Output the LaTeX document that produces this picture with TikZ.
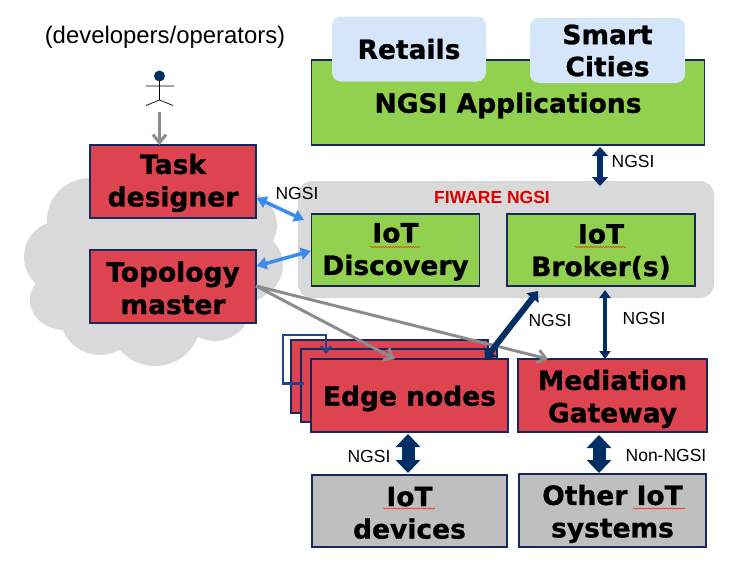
\documentclass[tikz,border=0pt]{standalone}
\usepackage{fontspec}
\setmainfont{Liberation Sans}
\newfontfamily\vfont[BoldFeatures={FakeBold=0.9}]{DejaVu Sans}
\usetikzlibrary{arrows.meta,decorations.pathmorphing,calc}
\definecolor{redbox}{HTML}{DD4450}
\definecolor{greenbox}{HTML}{92D050}
\definecolor{greybox}{HTML}{BFBFBF}
\definecolor{navy}{HTML}{002F66}
\definecolor{edgeline}{HTML}{17285C}
\definecolor{bgrey}{HTML}{D9D9D9}
\definecolor{lblue}{HTML}{D6E6FA}
\definecolor{bluearrow}{HTML}{3B8BEE}
\definecolor{arrowgrey}{HTML}{8C8C8C}
\definecolor{loopblue}{HTML}{1F4590}
\newcommand\dropa{\rule{0pt}{23pt}}
\newcommand\dropb{\rule{0pt}{27pt}}
\tikzset{
  x=1pt,y=-1pt,
  box/.style={draw=edgeline,line width=1.4pt,minimum width=#1,align=center,inner sep=0pt,font=\vfont\fontsize{26.5}{32.5}\selectfont\bfseries,text=black,execute at begin node={\rule{0pt}{26pt}}},
  redb/.style={box=#1,fill=redbox,minimum height=73pt},
  greenb/.style={box=#1,fill=greenbox,minimum height=72pt},
  greyb/.style={box=#1,fill=greybox,minimum height=72pt},
  bluetop/.style={fill=lblue,rounded corners=9pt,minimum width=154pt,minimum height=65pt,align=center,inner sep=0pt,font=\vfont\fontsize{26.5}{32}\selectfont\bfseries},
  lab/.style={font=\fontsize{17.5}{20}\selectfont,inner sep=0pt},
  dblmid/.style={navy,line width=6pt,{Triangle[length=9pt,width=16pt]}-{Triangle[length=9pt,width=16pt]}},
  dblthick/.style={navy,line width=13pt,{Triangle[length=13pt,width=24pt]}-{Triangle[length=13pt,width=24pt]}},
  dblthin/.style={navy,line width=3.5pt,{Triangle[length=8pt,width=11pt]}-{Triangle[length=8pt,width=11pt]}},
  blueb/.style={bluearrow,line width=3.5pt,{Triangle[length=10pt,width=12pt]}-{Triangle[length=10pt,width=12pt]}},
  greya/.style={arrowgrey,line width=3pt,-{Straight Barb[length=8pt,width=13pt]}},
  squig/.style={draw=red!70!orange,line width=.5pt,decorate,decoration={snake,amplitude=.6pt,segment length=2.5pt}},
}
\begin{document}
\begin{tikzpicture}
\useasboundingbox (0,0) rectangle (747,570);
\fill[white] (0,0) rectangle (747,570);
% cloud
\fill[bgrey]
  (90,220) ellipse[x radius=43,y radius=42]
  (60,257) ellipse[x radius=36,y radius=36]
  (65,300) ellipse[x radius=35,y radius=30]
  (100,315) ellipse[x radius=40,y radius=40]
  (155,320) ellipse[x radius=46,y radius=46]
  (215,305) ellipse[x radius=36,y radius=36]
  (225,225) ellipse[x radius=52,y radius=40]
  (233,265) ellipse[x radius=50,y radius=40]
  (170,260) ellipse[x radius=90,y radius=70];
% grey group
\fill[bgrey,rounded corners=14pt] (298,181) rectangle (714,298);
\node[lab,text=red!85!black,font=\fontsize{17.5}{20}\selectfont\bfseries] (fiware) at (492,197) {FIWARE NGSI};
% applications
\node[greenb=393pt,minimum height=85pt] (apps) at (508,102.5) {NGSI Applications};
\node[bluetop] (retails) at (409,49) {Retails};
\node[bluetop,minimum width=155pt] (cities) at (607.5,50.5) {Smart\\Cities};
% left
\node[font=\fontsize{23.9}{26}\selectfont,inner sep=0pt] (role) at (165,37) {(developers/operators)};
\node[redb=166pt] (task) at (173,181.5) {\dropa Task\\designer};
\node[redb=166pt] (topo) at (173,286.5) {\dropa Topology\\master};
% actor
\fill[navy] (159.5,76) circle[radius=5.5pt];
\draw[black,line width=.7pt] (159.5,81) -- (159.5,100) (146,86) -- (174,86) (146,105.5) -- (159.5,100) -- (173,105.5);
\coordinate (actorfoot) at (159.5,112);
\coordinate (taskin) at (159.5,145);
\draw[greya] (actorfoot) -- (taskin);
% FIWARE boxes
\node[greenb=168pt] (disc) at (395.5,250) {\dropa IoT\\Discovery};
\node[greenb=188pt] (brok) at (601,250) {\dropa IoT\\Broker(s)};
\draw[squig] (370,247) -- (420,247);
\draw[squig] (575,247) -- (626,247);
% edge stack
\node[redb=197pt] (edge3) at (389.5,376.5) {};
\node[redb=196pt] (edge2) at (399,385.5) {};
\coordinate (loopa) at (304,383.5);
\coordinate (loopb) at (283,383.5);
\coordinate (loopc) at (283,335);
\coordinate (loopd) at (326,335);
\coordinate (loope) at (326,354);
\draw[loopblue,line width=2.4pt,-{Straight Barb[length=6pt,width=10pt]}] (loopa) -- (loopb) -- (loopc) -- (loopd) -- (loope);
\node[redb=197pt] (edge) at (409.5,395.5) {Edge nodes};
\node[redb=189pt] (med) at (612.5,395.5) {\dropb Mediation\\Gateway};
\node[greyb=195pt] (dev) at (409.5,511) {\dropa IoT\\devices};
\node[greyb=187pt,minimum height=73pt] (other) at (612.5,510.5) {\dropb Other IoT\\systems};
\draw[squig] (383,508.5) -- (435,508.5);
\draw[squig] (633,508.5) -- (685,508.5);
% connectors
\coordinate (gt) at (600,186);
\coordinate (at) at (600,147);
\draw[dblmid] (at) -- (gt);
\draw[blueb] (task.east|-0,198) -- (304,220);
\draw[blueb] (topo.east|-0,266) -- (disc.west|-0,251);
\draw[greya] (256,286) -- (395,359);
\draw[greya] (256,286) -- (548,359);
\coordinate (bk) at (538,291);
\coordinate (ek) at (485,359);
\draw[navy,line width=6pt,{Triangle[length=9pt,width=15pt]}-{Triangle[length=9pt,width=15pt]}] (bk) -- (ek);
\coordinate (bm) at (605,290);
\coordinate (mm) at (605,359);
\draw[dblthin] (bm) -- (mm);
\draw[dblthick] (408,434) -- (408,473);
\draw[dblthick] (599,435) -- (599,473);
% labels
\node[lab] (l1) at (633,161) {NGSI};
\node[lab] (l2) at (297,193) {NGSI};
\node[lab] (l3) at (550,320) {NGSI};
\node[lab] (l4) at (644,318) {NGSI};
\node[lab] (l5) at (369,456) {NGSI};
\node[lab] (l6) at (666,455) {Non-NGSI};
\end{tikzpicture}
\end{document}
